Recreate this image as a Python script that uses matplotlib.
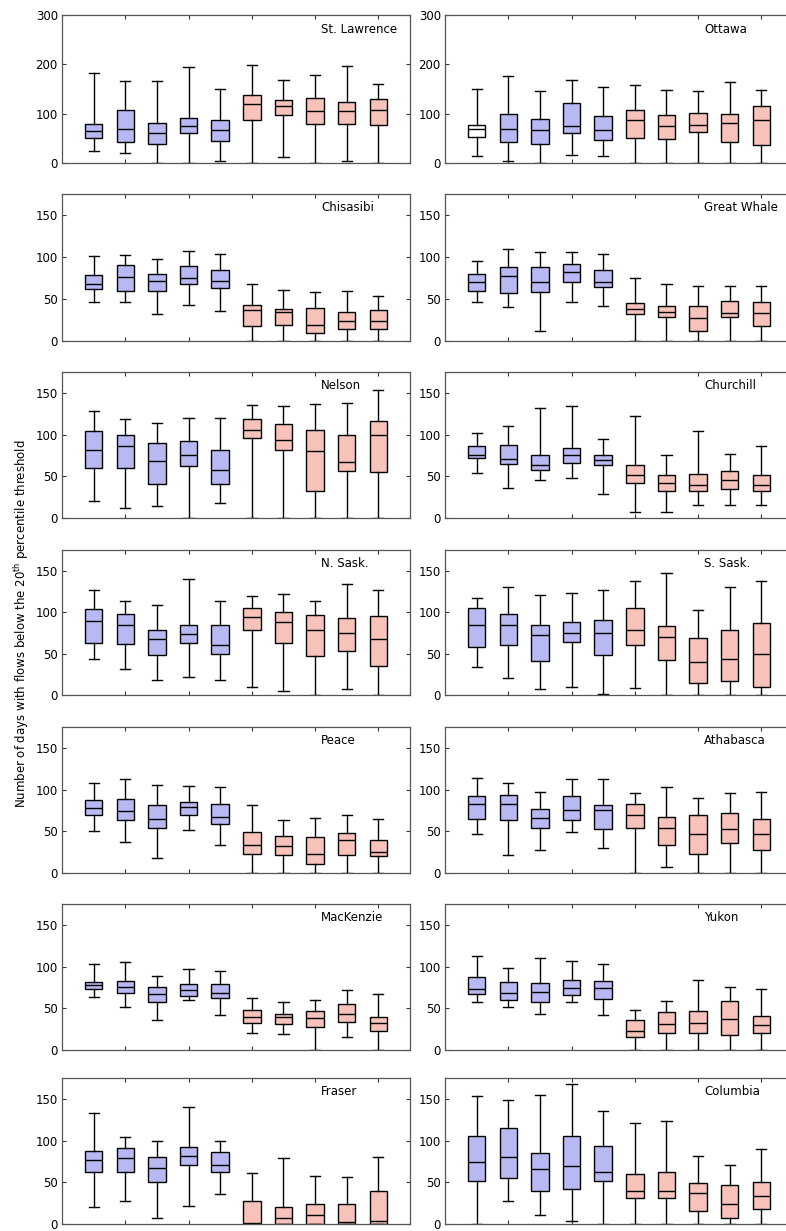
import matplotlib
matplotlib.use("Agg")
import matplotlib.pyplot as plt

# --- box stats: rows are whislo, q1, median, q3, whishi ---
# first five boxes = historical (blue), last five = future (pink)
st_lawrence = [[24, 20, 0, 0, 5, 0, 12, 0, 5, 0],
               [51, 42, 39, 61, 44, 88, 97, 80, 80, 77],
               [64, 68, 61, 75, 66, 119, 115, 106, 106, 108],
               [80, 107, 81, 92, 88, 138, 127, 132, 123, 129],
               [182, 166, 166, 195, 151, 199, 169, 179, 196, 161]]
ottawa = [[14, 5, 0, 16, 14, 0, 0, 0, 0, 0],
          [53, 42, 39, 60, 46, 51, 49, 62, 42, 37],
          [68, 68, 66, 76, 66, 88, 76, 78, 81, 87],
          [78, 100, 89, 122, 95, 108, 98, 102, 100, 115],
          [151, 176, 146, 169, 155, 159, 147, 146, 165, 147]]
chisasibi = [[47, 47, 32, 43, 36, 0, 0, 0, 0, 0],
             [62, 59, 60, 68, 63, 18, 19, 9, 14, 14],
             [68, 76, 71, 75, 71, 37, 34, 19, 24, 24],
             [78, 90, 80, 89, 85, 43, 38, 39, 34, 37],
             [101, 102, 98, 107, 103, 68, 61, 58, 60, 53]]
great_whale = [[47, 40, 12, 47, 42, 0, 0, 0, 0, 0],
               [60, 57, 58, 70, 64, 32, 28, 12, 29, 18],
               [70, 77, 70, 82, 70, 38, 35, 27, 33, 33],
               [80, 88, 88, 92, 85, 45, 42, 42, 48, 46],
               [95, 110, 106, 106, 103, 75, 68, 65, 65, 65]]
nelson = [[20, 12, 14, 0, 18, 0, 0, 0, 0, 0],
          [60, 60, 41, 62, 41, 96, 82, 32, 56, 55],
          [81, 86, 68, 76, 57, 106, 94, 80, 67, 99],
          [104, 100, 90, 92, 82, 119, 113, 105, 100, 116],
          [128, 119, 114, 120, 120, 136, 134, 137, 138, 153]]
churchill = [[54, 36, 46, 48, 29, 7, 7, 16, 16, 15],
             [72, 65, 57, 66, 64, 42, 32, 32, 35, 32],
             [76, 71, 63, 76, 69, 52, 42, 40, 46, 40],
             [86, 88, 75, 84, 76, 64, 52, 53, 56, 51],
             [102, 110, 132, 134, 95, 122, 76, 104, 77, 86]]
n_sask = [[43, 31, 18, 22, 18, 10, 5, 0, 7, 0],
          [63, 61, 48, 63, 50, 79, 63, 47, 53, 35],
          [89, 84, 67, 74, 60, 94, 88, 78, 75, 68],
          [104, 98, 79, 85, 85, 105, 100, 96, 93, 95],
          [127, 113, 109, 140, 113, 120, 122, 113, 134, 127]]
s_sask = [[34, 20, 7, 10, 1, 8, 0, 0, 0, 0],
          [58, 60, 41, 64, 48, 60, 42, 14, 17, 10],
          [85, 85, 73, 75, 75, 79, 70, 40, 44, 50],
          [105, 98, 85, 88, 90, 105, 83, 69, 78, 87],
          [117, 130, 121, 123, 127, 138, 147, 103, 130, 138]]
peace = [[50, 37, 18, 52, 34, 0, 0, 0, 0, 0],
         [69, 63, 54, 69, 59, 23, 21, 11, 22, 20],
         [78, 74, 65, 79, 67, 34, 32, 23, 39, 25],
         [87, 89, 81, 85, 83, 49, 44, 43, 48, 39],
         [108, 113, 105, 104, 103, 82, 63, 66, 69, 65]]
athabasca = [[47, 22, 28, 49, 30, 0, 7, 0, 0, 0],
             [65, 64, 54, 63, 53, 54, 33, 23, 36, 27],
             [83, 83, 66, 75, 75, 70, 54, 47, 53, 47],
             [92, 94, 77, 92, 82, 83, 67, 69, 72, 65],
             [114, 108, 97, 113, 113, 96, 103, 90, 96, 97]]
mackenzie = [[64, 51, 36, 60, 42, 20, 19, 0, 16, 0],
             [73, 68, 58, 65, 62, 32, 31, 27, 33, 23],
             [78, 75, 67, 72, 68, 39, 40, 38, 43, 32],
             [82, 83, 75, 79, 79, 48, 43, 47, 55, 40],
             [103, 105, 89, 97, 95, 62, 57, 60, 72, 67]]
yukon = [[57, 52, 43, 57, 42, 0, 0, 0, 0, 0],
         [67, 60, 58, 66, 61, 16, 20, 20, 18, 20],
         [73, 68, 70, 74, 74, 23, 31, 32, 37, 30],
         [87, 82, 80, 84, 83, 36, 45, 47, 59, 41],
         [113, 98, 110, 107, 103, 48, 59, 84, 75, 73]]
fraser = [[20, 28, 7, 21, 36, 0, 0, 0, 0, 0],
          [62, 62, 50, 71, 62, 0, 0, 0, 0, 0],
          [77, 79, 67, 81, 71, 1, 7, 11, 2, 4],
          [87, 91, 80, 92, 86, 27, 20, 24, 24, 40],
          [133, 104, 100, 140, 100, 61, 79, 58, 56, 80]]
columbia = [[0, 27, 11, 4, 0, 0, 0, 0, 0, 0],
            [51, 55, 39, 42, 51, 31, 31, 16, 7, 18],
            [74, 80, 66, 70, 62, 40, 40, 37, 24, 34],
            [105, 115, 85, 105, 94, 60, 62, 49, 47, 50],
            [154, 149, 155, 168, 136, 121, 123, 82, 71, 90]]

left_names = ["St. Lawrence", "Chisasibi", "Nelson", "N. Sask.", "Peace", "MacKenzie", "Fraser"]
right_names = ["Ottawa", "Great Whale", "Churchill", "S. Sask.", "Athabasca", "Yukon", "Columbia"]
left_data = [st_lawrence, chisasibi, nelson, n_sask, peace, mackenzie, fraser]
right_data = [ottawa, great_whale, churchill, s_sask, athabasca, yukon, columbia]

BLUE = "#b8b8f2"
PINK = "#f6c2ba"

W, H = 786, 1231
fig = plt.figure(figsize=(W / 100, H / 100), dpi=100)

# pixel positions of each panel (top edge, zero line)
row_px = [(15, 163), (194, 341), (372, 518), (550, 695), (727, 873), (904, 1050), (1078, 1224)]
col_px = [(62, 410), (445, 793)]


def draw_panel(ax, data, name):
    lo, q1, med, q3, hi = data
    stats = []
    for i in range(len(med)):
        stats.append(dict(whislo=lo[i], q1=q1[i], med=med[i], q3=q3[i], whishi=hi[i], fliers=[]))
    pos = list(range(1, len(med) + 1))
    bp = ax.bxp(stats, positions=pos, widths=0.55, patch_artist=True, showfliers=False,
                capwidths=0.32,
                boxprops=dict(edgecolor="black", linewidth=1.0),
                medianprops=dict(color="black", linewidth=1.0),
                whiskerprops=dict(color="black", linewidth=1.0, linestyle="-"),
                capprops=dict(color="black", linewidth=1.0))
    for i, box in enumerate(bp["boxes"]):
        box.set_facecolor(BLUE if i < 5 else PINK)
    if name == "Ottawa":
        bp["boxes"][0].set_facecolor("white")
    ax.text(0.745, 0.905, name, transform=ax.transAxes, ha="left", va="center", fontsize=8.5)


for c, (names, datas) in enumerate([(left_names, left_data), (right_names, right_data)]):
    x0, x1 = col_px[c]
    for r, (name, data) in enumerate(zip(names, datas)):
        top, zero = row_px[r]
        ax = fig.add_axes([x0 / W, 1 - zero / H, (x1 - x0) / W, (zero - top) / H])
        draw_panel(ax, data, name)
        ax.set_xlim(0, 11)
        if r == 0:
            ax.set_ylim(0, 300)
            ax.set_yticks([0, 100, 200, 300])
        else:
            ax.set_ylim(0, 175)
            ax.set_yticks([0, 50, 100, 150])
        ax.set_xticks([2, 4, 6, 8, 10])
        ax.set_xticklabels([])
        ax.tick_params(direction="in", top=True, right=True, length=3, width=0.8,
                       labelsize=8.5, colors="#333333", pad=3)
        ax.tick_params(axis="y", labelcolor="black")
        for sp in ax.spines.values():
            sp.set_color("#555555")
            sp.set_linewidth(0.9)

fig.text(22 / W, 1 - 624 / H, "Number of days with flows below the 20$^{\\rm th}$ percentile threshold",
         rotation=90, ha="center", va="center", fontsize=8.5)

fig.savefig("out.png", dpi=100, facecolor="white")
